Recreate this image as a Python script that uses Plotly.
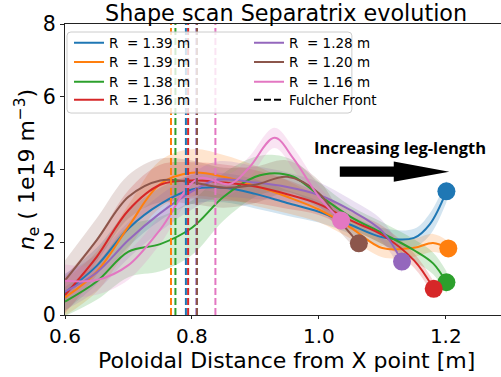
import plotly.graph_objects as go

# Separatrix density profiles along the divertor leg, one per strike-point radius
labels = ["R\u00a0\u00a0= 1.39 m", "R\u00a0\u00a0= 1.39 m", "R\u00a0\u00a0= 1.38 m", "R\u00a0\u00a0= 1.36 m",
          "R\u00a0\u00a0= 1.28 m", "R\u00a0\u00a0= 1.20 m", "R\u00a0\u00a0= 1.16 m"]
colors = ["#1f77b4", "#ff7f0e", "#2ca02c", "#d62728", "#9467bd", "#8c564b", "#e377c2"]
fills = ["rgba(31,119,180,0.2)", "rgba(255,127,14,0.2)", "rgba(44,160,44,0.2)",
         "rgba(214,39,40,0.2)", "rgba(148,103,189,0.2)", "rgba(140,86,75,0.2)",
         "rgba(227,119,194,0.2)"]

x_139a = [0.60, 0.65, 0.70, 0.75, 0.80, 0.85, 0.90, 0.95, 1.00, 1.05, 1.10, 1.15, 1.175, 1.201]
y_139a = [0.62, 1.35, 2.38, 3.05, 3.45, 3.50, 3.33, 3.08, 2.84, 2.48, 2.14, 2.12, 2.50, 3.40]
e_139a = [0.50, 0.50, 0.50, 0.45, 0.40, 0.40, 0.40, 0.35, 0.30, 0.25, 0.25, 0.25, 0.30, 0.30]

x_139b = [0.60, 0.65, 0.70, 0.75, 0.80, 0.85, 0.90, 0.95, 1.00, 1.05, 1.10, 1.15, 1.18, 1.204]
y_139b = [0.48, 1.19, 2.43, 3.60, 3.91, 3.80, 3.55, 3.25, 2.90, 2.40, 1.84, 1.85, 1.98, 1.83]
e_139b = [0.50, 0.55, 0.60, 0.65, 0.65, 0.60, 0.55, 0.45, 0.35, 0.30, 0.25, 0.25, 0.25, 0.20]

x_138 = [0.60, 0.65, 0.70, 0.75, 0.80, 0.85, 0.90, 0.93, 0.96, 1.00, 1.05, 1.10, 1.15, 1.18, 1.201]
y_138 = [0.37, 0.92, 1.74, 1.95, 2.40, 3.25, 3.80, 3.90, 3.80, 3.30, 2.70, 2.25, 1.78, 1.42, 0.90]
e_138 = [0.40, 0.50, 0.70, 0.75, 0.75, 0.65, 0.55, 0.50, 0.45, 0.35, 0.30, 0.30, 0.30, 0.30, 0.30]

x_136 = [0.60, 0.65, 0.70, 0.75, 0.80, 0.85, 0.90, 0.95, 1.00, 1.05, 1.10, 1.15, 1.181]
y_136 = [0.55, 1.60, 2.88, 3.58, 3.70, 3.64, 3.53, 3.32, 3.05, 2.60, 2.20, 1.50, 0.72]
e_136 = [0.50, 0.50, 0.55, 0.55, 0.50, 0.50, 0.45, 0.40, 0.30, 0.25, 0.25, 0.20, 0.20]

x_128 = [0.60, 0.65, 0.70, 0.75, 0.80, 0.84, 0.90, 0.95, 1.00, 1.05, 1.10, 1.131]
y_128 = [0.64, 1.17, 2.06, 2.80, 3.40, 3.72, 3.64, 3.52, 3.30, 2.88, 2.30, 1.47]
e_128 = [0.50, 0.50, 0.50, 0.50, 0.50, 0.50, 0.45, 0.40, 0.35, 0.30, 0.30, 0.30]

x_120 = [0.60, 0.65, 0.70, 0.75, 0.80, 0.85, 0.90, 0.95, 1.00, 1.03, 1.063]
y_120 = [0.95, 2.06, 3.25, 3.70, 3.65, 3.50, 3.58, 3.80, 3.35, 2.65, 1.97]
e_120 = [0.55, 0.60, 0.60, 0.60, 0.60, 0.55, 0.50, 0.45, 0.35, 0.30, 0.25]

x_116 = [0.60, 0.65, 0.70, 0.75, 0.81, 0.86, 0.89, 0.93, 0.96, 1.00, 1.035]
y_116 = [0.94, 0.96, 1.37, 2.35, 3.75, 3.60, 4.05, 4.87, 4.30, 3.25, 2.60]
e_116 = [0.45, 0.40, 0.40, 0.40, 0.35, 0.30, 0.30, 0.28, 0.30, 0.30, 0.25]

xs = [x_139a, x_139b, x_138, x_136, x_128, x_120, x_116]
ys = [y_139a, y_139b, y_138, y_136, y_128, y_120, y_116]
errs = [e_139a, e_139b, e_138, e_136, e_128, e_120, e_116]

# Fulcher-band front location for each case
fulcher_x = [0.7905, 0.767, 0.774, 0.794, 0.807, 0.808, 0.837]

# Legend rows (two columns per row): series index, or -1 for the Fulcher entry
legend_rows = [[0, 4], [1, 5], [2, 6], [3, -1]]
legend_row_y = [0.935, 0.869, 0.801, 0.739]

# Annotation arrow geometry (data units)
arrow_tail, arrow_neck, arrow_tip = 1.033, 1.118, 1.2055
arrow_y, arrow_body, arrow_head = 3.94, 0.14, 0.28

legend_of = {}
for r, row in enumerate(legend_rows):
    for idx in row:
        legend_of[idx] = "legend" if r == 0 else f"legend{r + 1}"

fig = go.Figure()

# Uncertainty bands
for x, y, e, fc in zip(xs, ys, errs, fills):
    lo = [a - b for a, b in zip(y, e)]
    hi = [a + b for a, b in zip(y, e)]
    fig.add_trace(go.Scatter(x=x, y=lo, mode="lines", line=dict(width=0, shape="spline"),
                             showlegend=False, hoverinfo="skip"))
    fig.add_trace(go.Scatter(x=x, y=hi, mode="lines", line=dict(width=0, shape="spline"),
                             fill="tonexty", fillcolor=fc, showlegend=False, hoverinfo="skip"))

# Profiles
for i, (x, y, c, lab) in enumerate(zip(xs, ys, colors, labels)):
    fig.add_trace(go.Scatter(x=x, y=y, mode="lines", line=dict(color=c, width=2, shape="spline"),
                             name=lab, legend=legend_of[i]))

# Fulcher front markers
for fx, c in zip(fulcher_x, colors):
    fig.add_trace(go.Scatter(x=[fx, fx], y=[0, 8], mode="lines",
                             line=dict(color=c, width=2, dash="7px,3px"),
                             showlegend=False, hoverinfo="skip"))
fig.add_trace(go.Scatter(x=[None], y=[None], mode="lines", name="Fulcher Front",
                         line=dict(color="black", width=2, dash="7px,3px"), legend=legend_of[-1]))

# End-of-leg points
for x, y, c in zip(xs, ys, colors):
    fig.add_trace(go.Scatter(x=[x[-1]], y=[y[-1]], mode="markers",
                             marker=dict(color=c, size=18), showlegend=False))

arrow_path = (f"M{arrow_tail},{arrow_y - arrow_body} L{arrow_neck},{arrow_y - arrow_body} "
              f"L{arrow_neck},{arrow_y - arrow_head} L{arrow_tip},{arrow_y} "
              f"L{arrow_neck},{arrow_y + arrow_head} L{arrow_neck},{arrow_y + arrow_body} "
              f"L{arrow_tail},{arrow_y + arrow_body} Z")

# Legend frame (rounded)
x0, x1, y0, y1, rx, ry = 0.0046, 0.658, 0.694, 0.9725, 0.009, 0.013
frame = (f"M{x0+rx},{y0} L{x1-rx},{y0} Q{x1},{y0} {x1},{y0+ry} L{x1},{y1-ry} "
         f"Q{x1},{y1} {x1-rx},{y1} L{x0+rx},{y1} Q{x0},{y1} {x0},{y1-ry} "
         f"L{x0},{y0+ry} Q{x0},{y0} {x0+rx},{y0} Z")

legend_style = dict(orientation="h", xanchor="left", yanchor="middle", x=0.0092,
                    bgcolor="rgba(0,0,0,0)", font=dict(size=13.5), itemwidth=30,
                    entrywidth=135, entrywidthmode="pixels", traceorder="normal")
legends = {}
for r, ry_ in enumerate(legend_row_y):
    key = "legend" if r == 0 else f"legend{r + 1}"
    legends[key] = dict(legend_style, y=ry_)

fig.update_layout(
    width=501, height=377,
    margin=dict(l=65, r=0, t=24, b=62),
    paper_bgcolor="white", plot_bgcolor="white",
    font=dict(family="DejaVu Sans", color="black"),
    title=dict(text="Shape scan Separatrix evolution", x=0.571, xanchor="center",
               y=0.965, yanchor="middle", font=dict(size=22.3)),
    xaxis=dict(range=[0.6, 1.287], tickvals=[0.6, 0.8, 1.0, 1.2], ticktext=["0.6", "0.8", "1.0", "1.2"],
               showgrid=False, zeroline=False, showline=True, linecolor="#222", linewidth=1,
               mirror=True, ticks="outside", ticklen=3, tickcolor="#222", tickfont=dict(size=20)),
    yaxis=dict(range=[0, 8], tickvals=[0, 2, 4, 6, 8], showgrid=False, zeroline=False,
               showline=True, linecolor="#222", linewidth=1, ticks="outside", ticklen=4,
               tickcolor="#222", tickfont=dict(size=20.5),
               title=dict(text="<i>n</i><sub>e</sub> ( 1e19 m<sup>−3</sup>)", font=dict(size=22), standoff=1)),
    shapes=[
        dict(type="path", path=arrow_path, xref="x", yref="y", fillcolor="black",
             line=dict(width=0), layer="above"),
        dict(type="path", path=frame, xref="paper", yref="paper",
             fillcolor="rgba(255,255,255,0.8)", line=dict(color="#cccccc", width=1), layer="above"),
    ],
    annotations=[
        dict(x=1.128, y=4.6, xref="x", yref="y", text="<b>Increasing leg-length</b>",
             showarrow=False, font=dict(family="Open Sans", size=16.5, color="black")),
        dict(x=0.509, y=-0.158, xref="paper", yref="paper", xanchor="center", yanchor="middle",
             text="Poloidal Distance from X point [m]", showarrow=False, font=dict(size=22)),
    ],
    **legends,
)

fig.write_html("out.html")
